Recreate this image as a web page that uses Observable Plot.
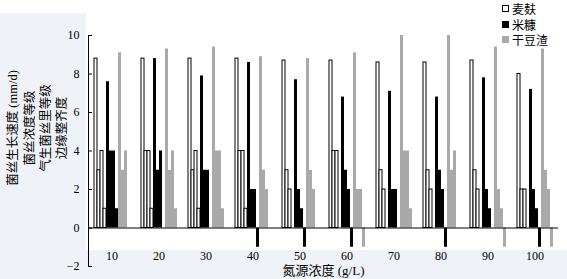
<!DOCTYPE html>
<html>
<head>
<meta charset="utf-8">
<script src="https://cdn.jsdelivr.net/npm/d3@7"></script>
<script src="https://cdn.jsdelivr.net/npm/@observablehq/plot@0.6"></script>
<style>
  body { margin: 0; background: #fff; }
  #wrap {
    position: relative; width: 567px; height: 279px; overflow: hidden;
    background:
      linear-gradient(#eff2f7, #eff2f7) 0 13px / 86px 266px no-repeat,
      linear-gradient(#eff2f7, #eff2f7) 0 250px / 567px 29px no-repeat,
      #fff;
  }
  #wrap svg { position: absolute; left: 0; top: 0; }
  #legend { position: absolute; left: 502px; top: 1px; font: 12px "Noto Sans CJK SC", sans-serif; color: #000; }
  .item { display: flex; align-items: center; height: 15.5px; }
  .sw { width: 7px; height: 7px; margin-right: 3px; box-sizing: border-box; }
</style>
</head>
<body>
<div id="wrap"><div id="legend"></div></div>
<script>
const concentrations = [10, 20, 30, 40, 50, 60, 70, 80, 90, 100];
const materials = ["麦麸", "米糠", "干豆渣"];
const indicators = ["菌丝生长速度", "菌丝浓度等级", "气生菌丝量等级", "边缘整齐度"];
const yTicks = [-2, 0, 2, 4, 6, 8, 10];
const yTitle = "菌丝生长速度 (mm/d)\n菌丝浓度等级\n气生菌丝里等级\n边缘整齐度";
const xTitle = "氮源浓度 (g/L)";

// 麦麸
const wheatGrowth  = [8.8, 8.8, 8.8, 8.8, 8.7, 8.7, 8.6, 8.6, 8.7, 8.0];
const wheatDensity = [3, 4, 3, 4, 3, 4, 3, 3, 3, 2];
const wheatAerial  = [4, 4, 4, 4, 2, 4, 2, 2, 2, 2];
const wheatEdge    = [1, 1, 1, 1, 0, 0, 0, 0, 0, 0];
// 米糠
const riceGrowth  = [7.6, 8.8, 7.9, 8.6, 7.7, 6.8, 7.1, 6.8, 7.8, 7.2];
const riceDensity = [4, 3, 3, 2, 2, 3, 2, 3, 2, 2];
const riceAerial  = [4, 4, 3, 2, 1, 2, 2, 2, 1, 1];
const riceEdge    = [1, 0, 0, -1, -1, -1, 0, -1, 0, -1];
// 干豆渣
const beanGrowth  = [9.1, 9.3, 9.4, 8.9, 8.8, 9.1, 10, 10, 9.4, 9.3];
const beanDensity = [3, 3, 4, 3, 3, 2, 4, 3, 2, 3];
const beanAerial  = [4, 4, 4, 2, 2, 2, 4, 4, 1, 2];
const beanEdge    = [0, 1, 1, 0, 0, -1, 1, 0, -1, -1];

const fills = ["white", "black", "#a9a9a9"];
const strokes = ["black", "none", "none"];

const series = [
  [wheatGrowth, wheatDensity, wheatAerial, wheatEdge],
  [riceGrowth, riceDensity, riceAerial, riceEdge],
  [beanGrowth, beanDensity, beanAerial, beanEdge]
];

const rows = [];
materials.forEach((m, mi) => {
  indicators.forEach((ind, ii) => {
    series[mi][ii].forEach((v, ci) => {
      rows.push({conc: concentrations[ci], material: m, key: m + "·" + ind, value: v});
    });
  });
});
const keys = materials.flatMap(m => indicators.map(i => m + "·" + i));

const font = "'Liberation Serif', 'Noto Sans CJK SC', serif";

const chart = Plot.plot({
  width: 567,
  height: 279,
  marginLeft: 86,
  marginRight: 7,
  marginTop: 35,
  marginBottom: 13,
  style: {fontFamily: font, fontSize: "12px", background: "none", color: "black", overflow: "visible"},
  fx: {domain: concentrations, paddingInner: 0, paddingOuter: 0, label: null},
  x: {domain: keys, paddingInner: 0, paddingOuter: 0.77, axis: null},
  y: {domain: [-2, 10], label: null},
  marks: [
    ...materials.map((m, mi) => Plot.barY(rows.filter(d => d.material === m), {
      fx: "conc", x: "key", y: "value",
      fill: fills[mi], stroke: strokes[mi], strokeWidth: 1, inset: 0
    })),
    Plot.ruleY([0], {stroke: "black", strokeWidth: 1}),
    Plot.frame({anchor: "left", facet: "super", stroke: "black", strokeWidth: 1}),
    Plot.axisY({ticks: yTicks, tickSize: -4, tickPadding: 13, fontSize: 12, label: null}),
    Plot.axisFx({anchor: "bottom", tickSize: 0, tickPadding: 3, dy: -18, fontSize: 12, label: null}),
    Plot.text([xTitle], {frameAnchor: "bottom", facet: "super", dy: 4, lineAnchor: "middle", fontSize: 13, fontFamily: font}),
    Plot.text([yTitle], {frameAnchor: "left", facet: "super", rotate: -90, dx: -52, dy: -23, lineAnchor: "middle", textAnchor: "middle", fontSize: 12.5, lineHeight: 1.3, fontFamily: font})
  ]
});

const wrap = document.getElementById("wrap");
wrap.insertBefore(chart, wrap.firstChild);

const legend = document.getElementById("legend");
materials.forEach((m, mi) => {
  const item = document.createElement("div");
  item.className = "item";
  const sw = document.createElement("span");
  sw.className = "sw";
  sw.style.background = fills[mi];
  sw.style.border = strokes[mi] === "none" ? "none" : "1px solid " + strokes[mi];
  const label = document.createElement("span");
  label.textContent = m;
  item.appendChild(sw);
  item.appendChild(label);
  legend.appendChild(item);
});
</script>
</body>
</html>
